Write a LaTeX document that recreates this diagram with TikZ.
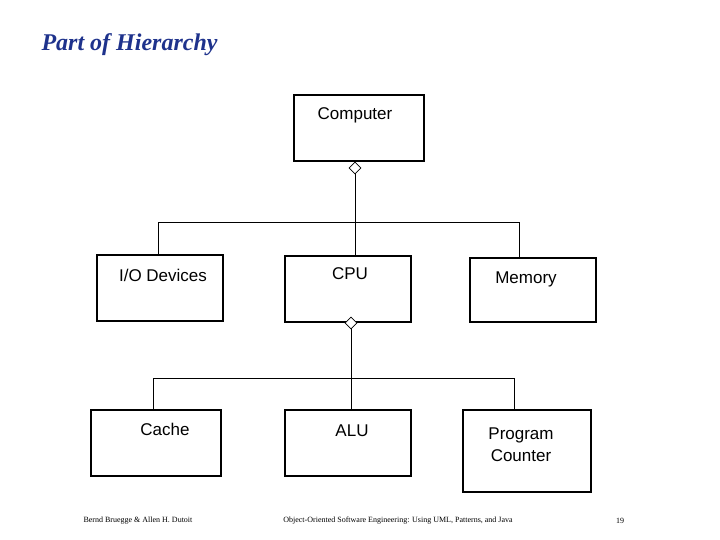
\documentclass[tikz,border=0pt]{standalone}
\usepackage{fontspec}
\setmainfont{Liberation Sans}
\newfontfamily\serif{Liberation Serif}
\usetikzlibrary{shapes.geometric}
\begin{document}
\begin{tikzpicture}[x=1pt,y=-1pt,
  box/.style={draw,line width=1.5pt,inner sep=0pt},
  lbl/.style={font=\fontsize{17}{22}\selectfont,align=center},
  dia/.style={draw,diamond,fill=white,minimum size=12pt,inner sep=0pt,line width=0.8pt},
  ln/.style={line width=0.8pt},
  foot/.style={font=\serif\fontsize{8}{9}\selectfont}]
\useasboundingbox (0,0) rectangle (720,540);
\node[anchor=west,font=\serif\bfseries\itshape\fontsize{24}{28}\selectfont,text={rgb,255:red,30;green,50;blue,140}] (title) at (38,45) {Part of Hierarchy};
\draw[box] (294,95) rectangle (424,161);
\node[lbl] (comp) at (355,115) {Computer};
\draw[box] (97,255) rectangle (223,321);
\node[lbl] (io) at (163,275) {I/O Devices};
\draw[box] (285,256) rectangle (411,322);
\node[lbl] (cpu) at (350,274) {CPU};
\draw[box] (470,258) rectangle (596,322);
\node[lbl] (mem) at (526,279) {Memory};
\draw[box] (91,410) rectangle (221,476);
\node[lbl] (cache) at (165,429) {Cache};
\draw[box] (285,410) rectangle (411,476);
\node[lbl] (alu) at (352,431) {ALU};
\draw[box] (463,410) rectangle (591,492);
\node[lbl] (pc) at (521,445) {Program\\ Counter};
\draw[ln] (355,168) -- (355,222) (158,255) -- (158,222) -- (519,222) -- (519,258) (355,222) -- (355,256);
\draw[ln] (351,323) -- (351,378) (153,410) -- (153,378) -- (514,378) -- (514,410) (351,378) -- (351,410);
\node[dia] (dg1) at (355,168) {};
\node[dia] (dg2) at (351,323) {};
\node[foot] (f1) at (138,521) {Bernd Bruegge \& Allen H. Dutoit};
\node[foot] (f2) at (398,521) {Object-Oriented Software Engineering: Using UML, Patterns, and Java};
\node[foot] (f3) at (620,521) {19};
\end{tikzpicture}
\end{document}
